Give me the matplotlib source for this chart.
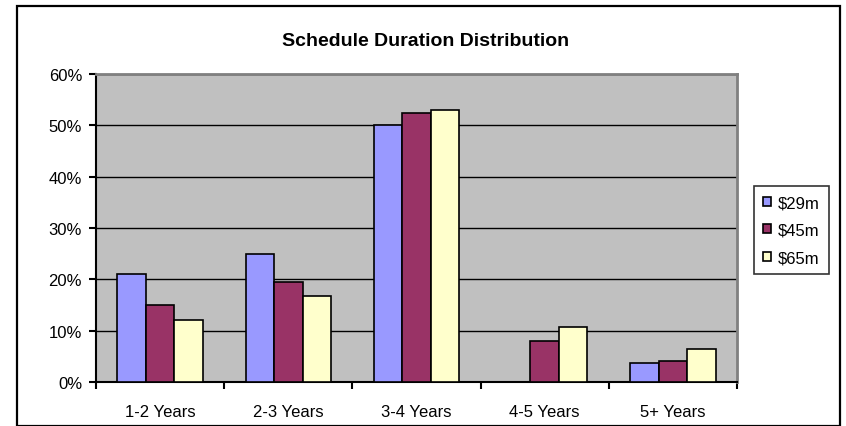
import matplotlib.pyplot as plt
from matplotlib.patches import Patch, Rectangle
import numpy as np

plt.rcParams['font.family'] = ['Liberation Sans', 'DejaVu Sans']

categories = ["1-2 Years", "2-3 Years", "3-4 Years", "4-5 Years", "5+ Years"]
series_names = ["$29m", "$45m", "$65m"]
v29 = [21.0, 25.0, 50.0, 0.0, 3.7]
v45 = [15.0, 19.4, 52.5, 8.0, 4.1]
v65 = [12.0, 16.7, 53.0, 10.8, 6.4]
colors = ["#9999FF", "#993366", "#FFFFCC"]

W, H = 846, 427
fig = plt.figure(figsize=(W / 100, H / 100), dpi=100)

# outer chart border
fig.patches.append(Rectangle((17 / W, 0), (840 - 17) / W, 1 - 7 / H, transform=fig.transFigure,
                             fill=False, edgecolor="black", linewidth=1.6))

# plot area, pixel box: x 96..737, y 75..383
ax = fig.add_axes([96 / W, (H - 383) / H, (737 - 96) / W, (383 - 75) / H])
ax.set_facecolor("#C0C0C0")

x = np.arange(len(categories))
bw = 1 / 4.5
for i, (vals, name) in enumerate(zip([v29, v45, v65], series_names)):
    ax.bar(x + (i - 1) * bw, vals, width=bw, color=colors[i], edgecolor="black",
           linewidth=1.2, label=name, zorder=3)

ax.set_xlim(-0.5, len(categories) - 0.5)
ax.set_ylim(0, 60)
ax.set_yticks(np.arange(0, 61, 10))
ax.set_yticklabels([f"{v}%" for v in range(0, 61, 10)], fontsize=12)
ax.yaxis.grid(True, color="black", linewidth=1.0, zorder=1)
ax.set_axisbelow(True)

ax.set_xticks(x)
ax.set_xticklabels(categories, fontsize=12)
ax.set_xticks(np.arange(-0.5, len(categories)), minor=True)
ax.tick_params(axis="x", which="major", length=0, pad=16)
ax.tick_params(axis="x", which="minor", length=5, width=1.5, direction="out")
ax.tick_params(axis="y", length=5, width=1.5, direction="out", pad=5)

for side in ["top", "right"]:
    ax.spines[side].set_color("#808080")
    ax.spines[side].set_linewidth(2)
for side in ["left", "bottom"]:
    ax.spines[side].set_color("black")
    ax.spines[side].set_linewidth(1.5)

fig.text(426 / W, 1 - 41 / H, "Schedule Duration Distribution", ha="center", va="center",
         fontsize=14, fontweight="bold")

handles = [Patch(facecolor=c, edgecolor="black", linewidth=1.2) for c in colors]
leg = fig.legend(handles, series_names, loc="upper left",
                 bbox_to_anchor=(754 / W, 1 - 187 / H), bbox_transform=fig.transFigure,
                 borderaxespad=0, fontsize=12, frameon=True, fancybox=False,
                 handlelength=0.45, handleheight=0.45, handletextpad=0.45,
                 borderpad=0.55, labelspacing=0.75)
leg.get_frame().set_edgecolor("black")
leg.get_frame().set_linewidth(1.2)

fig.savefig("out.png", dpi=100)
